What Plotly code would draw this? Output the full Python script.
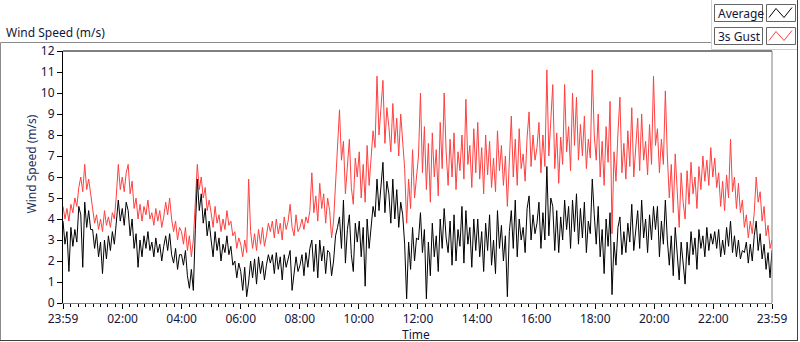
import numpy as np
import plotly.graph_objects as go

# ---- data: 4-minute samples from 23:59 (previous day) to 23:59 ----
gust = [
    # 0h
    4.6, 4.0, 4.5, 3.9, 4.7, 4.3, 5.0, 4.6, 5.5, 6.0, 5.3, 6.6, 5.4, 5.9, 5.2,
    # 1h
    4.5, 3.8, 4.2, 3.5, 4.0, 3.4, 4.4, 3.7, 4.1, 3.6, 4.3, 4.0, 5.1, 6.6, 5.4,
    # 2h
    6.0, 5.3, 6.2, 6.6, 5.2, 5.8, 4.5, 5.0, 4.0, 4.7, 3.9, 4.6, 4.2, 4.9, 4.0,
    # 3h
    4.3, 3.7, 4.5, 3.9, 4.4, 3.6, 4.1, 4.8, 4.2, 5.0, 4.0, 3.4, 3.9, 3.0, 3.6,
    # 4h
    3.4, 2.8, 3.6, 2.5, 3.2, 2.2, 3.0, 4.8, 6.6, 5.4, 6.0, 5.0, 5.5, 4.4, 4.9,
    # 5h
    4.3, 3.6, 4.6, 3.8, 4.2, 3.4, 4.0, 3.5, 4.4, 3.7, 3.9, 3.2, 3.4, 2.6, 3.1,
    # 6h
    2.8, 2.2, 3.0, 2.4, 5.9, 3.4, 2.6, 3.3, 2.5, 3.5, 2.8, 3.6, 2.7, 3.2, 3.8,
    # 7h
    3.4, 3.9, 3.1, 4.0, 3.3, 3.8, 3.0, 4.1, 3.5, 3.9, 4.7, 3.6, 3.2, 4.2, 3.4,
    # 8h
    3.6, 4.0, 3.5, 4.1, 3.8, 4.4, 6.2, 4.3, 5.1, 3.9, 5.7, 4.5, 5.2, 3.8, 5.0,
    # 9h
    4.4, 3.1, 3.9, 5.6, 7.4, 9.2, 6.8, 7.7, 5.2, 6.5, 7.8, 5.5, 4.7, 6.9, 6.0,
    # 10h
    7.2, 5.0, 6.6, 4.8, 7.5, 5.6, 6.9, 8.2, 7.4, 10.8, 8.0, 9.1, 10.6, 7.6, 9.3,
    # 11h
    8.4, 7.2, 9.5, 7.6, 8.8, 7.0, 9.0, 7.8, 6.4, 3.8, 5.9, 4.5, 7.3, 5.0, 6.2,
    # 12h
    7.0, 10.0, 6.2, 8.4, 5.4, 7.6, 4.8, 8.1, 6.0, 7.3, 5.1, 8.6, 6.4, 10.0, 7.2,
    # 13h
    5.6, 7.8, 6.0, 8.1, 5.4, 7.2, 6.3, 8.0, 5.9, 9.7, 6.6, 7.5, 5.5, 8.3, 6.2,
    # 14h
    8.6, 5.9, 7.4, 5.2, 8.0, 6.1, 7.7, 5.5, 6.9, 5.3, 8.2, 6.3, 7.5, 5.6, 7.0,
    # 15h
    4.6, 7.2, 8.9, 6.0, 7.8, 5.6, 8.3, 6.4, 7.1, 5.8, 7.9, 9.1, 6.5, 8.0, 6.8,
    # 16h
    7.4, 8.6, 6.2, 8.0, 6.5, 11.1, 7.0, 8.8, 10.4, 6.4, 8.1, 5.7, 7.9, 6.6, 10.4,
    # 17h
    7.2, 8.4, 6.3, 10.0, 7.5, 9.8, 6.8, 8.5, 7.0, 8.9, 6.4, 7.8, 6.9, 11.1, 8.0,
    # 18h
    6.8, 9.0, 6.0, 7.7, 5.6, 8.4, 6.7, 9.6, 3.3, 7.2, 5.8, 8.1, 9.8, 6.2, 7.6,
    # 19h
    5.9, 8.2, 6.5, 9.3, 6.0, 7.4, 8.8, 6.3, 9.0, 6.8, 7.7, 6.1, 8.5, 6.6, 10.8,
    # 20h
    7.5, 8.3, 6.2, 7.8, 6.6, 10.1, 7.0, 5.0, 6.6, 4.3, 7.1, 5.4, 3.6, 6.2, 4.8,
    # 21h
    4.0, 6.3, 4.7, 6.7, 5.2, 6.0, 4.5, 6.5, 5.4, 7.0, 5.8, 6.8, 5.6, 7.4, 6.0,
    # 22h
    6.9, 5.5, 6.2, 4.6, 5.8, 4.4, 6.1, 5.0, 7.8, 5.3, 6.0, 4.5, 5.7, 4.3, 4.9,
    # 23h
    3.6, 4.2, 3.1, 3.9, 3.3, 4.3, 6.0, 4.8, 5.3, 3.9, 4.6, 3.2, 3.7, 2.6, 3.0,
]

average = [
    # 0h
    3.9, 2.8, 3.4, 1.5, 3.6, 2.7, 3.5, 2.9, 4.6, 4.2, 1.7, 4.8, 3.6, 4.4, 3.5,
    # 1h
    3.5, 2.6, 3.3, 2.2, 2.9, 1.4, 3.0, 2.1, 3.2, 2.5, 3.4, 2.8, 4.0, 4.9, 3.9,
    # 2h
    4.5, 3.7, 4.8, 4.4, 3.2, 4.0, 2.6, 3.3, 1.7, 3.0, 2.2, 3.2, 2.6, 3.4, 2.5,
    # 3h
    2.9, 2.2, 3.1, 2.4, 2.8, 2.0, 2.7, 3.2, 2.5, 3.3, 2.3, 1.9, 2.6, 1.6, 2.3,
    # 4h
    2.3, 1.8, 2.5, 1.3, 0.7, 1.6, 0.6, 3.5, 5.9, 4.4, 5.2, 3.8, 4.5, 3.2, 3.9,
    # 5h
    3.0, 2.2, 3.4, 2.5, 3.1, 2.0, 2.8, 2.4, 3.2, 2.3, 2.7, 1.8, 2.0, 1.2, 1.9,
    # 6h
    1.5, 0.6, 1.7, 0.3, 1.0, 2.0, 1.2, 2.1, 0.9, 2.2, 1.4, 2.0, 1.1, 1.8, 2.3,
    # 7h
    1.9, 2.3, 1.4, 2.4, 1.6, 2.2, 1.1, 2.3, 1.7, 2.1, 2.5, 0.6, 1.3, 2.2, 1.5,
    # 8h
    1.8, 2.3, 1.3, 2.4, 1.7, 2.6, 3.0, 1.5, 2.8, 1.2, 3.0, 2.0, 2.7, 1.4, 2.5,
    # 9h
    2.4, 1.3, 2.0, 3.2, 3.6, 4.1, 2.6, 4.9, 1.9, 3.5, 4.2, 2.3, 1.5, 3.8, 2.9,
    # 10h
    3.9, 2.2, 3.6, 0.8, 4.0, 2.6, 3.8, 4.6, 4.1, 5.9, 4.4, 5.5, 6.7, 4.3, 5.8,
    # 11h
    5.2, 3.8, 5.9, 4.0, 5.4, 3.6, 4.8, 4.2, 2.8, 0.2, 2.9, 1.6, 3.6, 2.0, 3.1,
    # 12h
    3.0, 4.3, 2.4, 3.5, 0.2, 2.9, 1.3, 3.8, 2.2, 3.2, 1.5, 4.0, 2.6, 4.5, 3.1,
    # 13h
    2.4, 3.9, 1.8, 4.2, 2.0, 3.5, 2.7, 4.6, 1.9, 4.4, 2.8, 3.6, 1.7, 4.0, 2.5,
    # 14h
    4.0, 2.2, 3.4, 1.5, 3.8, 2.5, 4.2, 1.8, 3.0, 1.4, 4.4, 2.6, 3.7, 2.0, 3.2,
    # 15h
    0.3, 3.4, 4.4, 2.6, 4.9, 2.2, 4.0, 3.0, 3.6, 2.4, 4.5, 5.1, 3.0, 4.2, 3.3,
    # 16h
    3.8, 4.8, 2.6, 4.3, 3.0, 6.5, 3.2, 5.0, 4.6, 2.5, 4.4, 2.4, 4.1, 3.0, 4.9,
    # 17h
    3.5, 4.6, 2.6, 4.9, 3.4, 5.2, 2.8, 4.5, 3.1, 4.8, 2.4, 3.9, 3.3, 5.9, 4.2,
    # 18h
    2.8, 4.6, 2.2, 3.5, 1.4, 4.0, 2.7, 4.3, 0.4, 2.9, 1.8, 3.6, 4.1, 2.3, 3.4,
    # 19h
    2.4, 3.8, 2.9, 4.7, 2.5, 3.6, 4.4, 2.6, 4.9, 3.1, 4.0, 2.4, 4.2, 3.0, 4.6,
    # 20h
    3.5, 4.6, 2.2, 3.9, 2.8, 4.9, 3.0, 1.8, 3.2, 1.3, 3.6, 2.2, 1.1, 2.9, 2.0,
    # 21h
    0.9, 2.9, 1.8, 3.4, 2.3, 3.1, 1.6, 3.5, 2.6, 3.2, 2.2, 3.6, 2.5, 3.3, 2.8,
    # 22h
    3.4, 2.6, 3.5, 2.2, 3.0, 2.3, 3.6, 2.7, 3.9, 2.4, 3.2, 2.2, 3.0, 2.1, 2.5,
    # 23h
    2.4, 2.9, 1.9, 2.8, 2.0, 3.2, 3.9, 2.5, 3.3, 2.1, 2.8, 1.6, 2.4, 1.2, 2.5,
]

tick_minutes = [0, 121, 241, 361, 481, 601, 721, 841, 961, 1081, 1201, 1321, 1440]
tick_labels = ["23:59", "02:00", "04:00", "06:00", "08:00", "10:00", "12:00",
               "14:00", "16:00", "18:00", "20:00", "22:00", "23:59"]

series_names = ["Average", "3s Gust"]
series_colors = ["#000000", "#ff4040"]

minutes = np.linspace(0, 1440, len(gust))

# ---- layout geometry (pixels) ----
W, H = 800, 342
L, R, T, B = 63, 772, 51, 303
pw, ph = R - L, B - T


def px(x):
    return (x - L) / pw


def py(y):
    return (B - y) / ph


FONT = "Noto Sans"
TXT = "#15153a"

fig = go.Figure()
fig.add_trace(go.Scatter(x=minutes, y=gust, mode="lines", name=series_names[1],
                         line=dict(color=series_colors[1], width=1)))
fig.add_trace(go.Scatter(x=minutes, y=average, mode="lines", name=series_names[0],
                         line=dict(color=series_colors[0], width=1)))

fig.update_layout(
    width=W, height=H,
    margin=dict(l=L, r=W - R, t=T, b=H - B),
    paper_bgcolor="white", plot_bgcolor="white",
    showlegend=False,
    font=dict(family=FONT, size=12, color=TXT),
)
fig.update_xaxes(
    range=[0, 1440], tickmode="array", tickvals=tick_minutes, ticktext=tick_labels,
    ticks="outside", ticklen=5, tickcolor="#000", tickwidth=1,
    showline=True, linecolor="#808080", linewidth=1, showgrid=False, zeroline=False,
    minor=dict(tick0=1, dtick=15, ticks="outside", ticklen=3, tickcolor="#000", showgrid=False),
    tickfont=dict(size=12, color=TXT),
)
fig.update_yaxes(
    range=[0, 12], dtick=1, ticks="outside", ticklen=5, tickcolor="#000",
    showline=True, linecolor="#000", linewidth=1, showgrid=False, zeroline=False,
    tickfont=dict(size=12, color=TXT),
)

shapes = []
# plot-area top (black) and right (gray) borders
shapes.append(dict(type="line", xref="paper", yref="paper", x0=0, x1=1, y0=1, y1=1,
                   line=dict(color="#000", width=1)))
shapes.append(dict(type="line", xref="paper", yref="paper", x0=1, x1=1, y0=0, y1=1,
                   line=dict(color="#808080", width=1)))
# outer panel frame
shapes.append(dict(type="line", xref="paper", yref="paper", x0=px(0.5), x1=px(711), y0=py(42.5), y1=py(42.5),
                   line=dict(color="#8c8c8c", width=1)))
shapes.append(dict(type="line", xref="paper", yref="paper", x0=px(0.5), x1=px(0.5), y0=py(42.5), y1=py(341),
                   line=dict(color="#8c8c8c", width=1)))
shapes.append(dict(type="line", xref="paper", yref="paper", x0=px(0), x1=px(798), y0=py(340.5), y1=py(340.5),
                   line=dict(color="#404040", width=1)))
shapes.append(dict(type="line", xref="paper", yref="paper", x0=px(797.5), x1=px(797.5), y0=py(0), y1=py(341),
                   line=dict(color="#404040", width=1)))
# legend region frame (light)
shapes.append(dict(type="line", xref="paper", yref="paper", x0=px(711.5), x1=px(711.5), y0=py(0), y1=py(49.5),
                   line=dict(color="#d0d0d0", width=1)))
shapes.append(dict(type="line", xref="paper", yref="paper", x0=px(711.5), x1=px(797), y0=py(49.5), y1=py(49.5),
                   line=dict(color="#d0d0d0", width=1)))

annotations = []
# legend items
for i, (name, col) in enumerate(zip(series_names, series_colors)):
    top = 4.5 + i * 23
    bot = top + 17
    shapes.append(dict(type="rect", xref="paper", yref="paper", x0=px(714.5), x1=px(762.5),
                       y0=py(bot), y1=py(top), line=dict(color="#646464", width=1), fillcolor="white"))
    shapes.append(dict(type="rect", xref="paper", yref="paper", x0=px(766.5), x1=px(795.5),
                       y0=py(bot), y1=py(top), line=dict(color="#646464", width=1), fillcolor="white"))
    zx = [769, 776, 784, 792]
    zy = [top + 13, top + 4, top + 13, top + 3]
    path = "M " + " L ".join(f"{px(a)},{py(b)}" for a, b in zip(zx, zy))
    shapes.append(dict(type="path", xref="paper", yref="paper", path=path,
                       line=dict(color=col, width=1)))
    annotations.append(dict(xref="paper", yref="paper", x=px(716), y=py(top + 8.5),
                            text=name, showarrow=False, xanchor="left", yanchor="middle",
                            font=dict(family=FONT, size=12, color=TXT)))

# titles
annotations.append(dict(xref="paper", yref="paper", x=px(4), y=py(32), text="Wind Speed (m/s)",
                        showarrow=False, xanchor="left", yanchor="middle",
                        font=dict(family=FONT, size=12, color=TXT)))
annotations.append(dict(xref="paper", yref="paper", x=px(31), y=py(164.5), text="Wind Speed (m/s)",
                        showarrow=False, textangle=-90, xanchor="center", yanchor="middle",
                        font=dict(family=FONT, size=12, color="#1f2f5c")))
annotations.append(dict(xref="paper", yref="paper", x=px(416), y=py(334), text="Time",
                        showarrow=False, xanchor="center", yanchor="middle",
                        font=dict(family=FONT, size=12, color=TXT)))

fig.update_layout(shapes=shapes, annotations=annotations)
fig.write_html("out.html", config={"displayModeBar": False},
               post_script="document.body.style.margin='0';document.body.style.overflow='hidden';")
